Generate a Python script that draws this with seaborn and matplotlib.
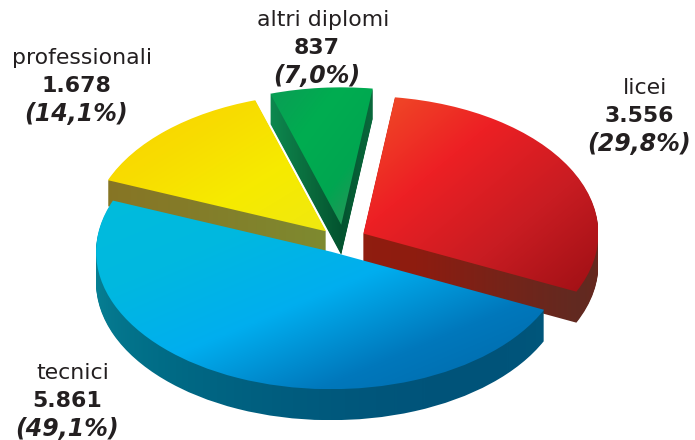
import matplotlib
matplotlib.use('Agg')
import matplotlib.pyplot as plt
import numpy as np
import seaborn as sns

# categories in pie order, counter-clockwise from the right edge of licei
categories = ['licei', 'altri diplomi', 'professionali', 'tecnici']
values = [3556, 837, 1678, 5861]
value_labels = ['3.556', '837', '1.678', '5.861']
pct_labels = ['(29,8%)', '(7,0%)', '(14,1%)', '(49,1%)']

explode = [0.128, 0.14, 0.106, 0.085]
nudge_px = [(-1, -3), (6, -1), (5, -3), (1, -4)]
depths = [31, 30, 26, 31]
draw_order = [1, 2, 0, 3]
label_pos = [(645, 88), (323, 20), (82, 58), (73, 373)]

top_colors = [['#f04e27', '#ed2024', '#c81c22', '#a01015'],
              ['#0a9d55', '#00ad50', '#00a651', '#3a8c5c'],
              ['#f9d100', '#f8dc00', '#f6eb00', '#f0e810'],
              ['#00bcdc', '#00b8e0', '#00aeef', '#0078bc', '#0068a8']]
side_colors = [['#95200f', '#8e1c10', '#5e2b22'],
               ['#0d8a50', '#0a6a3c', '#004a2a'],
               ['#8a6e20', '#857a28', '#7e8a30'],
               ['#0a8a9a', '#006a85', '#004a75']]

SQUASH = 0.585
RADIUS_PX = 235
CENTER_PX = (338, 245)
W, H = 695, 440

sns.set_theme(style='white')
fig = plt.figure(figsize=(W / 100, H / 100), dpi=100)
ax = fig.add_axes([0, 0, 1, 1])

xmax = W / RADIUS_PX
ymax = H / (RADIUS_PX * SQUASH)
cx = CENTER_PX[0] / RADIUS_PX
cy = (H - CENTER_PX[1]) / (RADIUS_PX * SQUASH)
dx = 1 / RADIUS_PX
dy = 1 / (RADIUS_PX * SQUASH)

grid = np.linspace(0, 1, 64)
ramp = np.add.outer(grid, grid) / 2


def fill_wedge(wedge, cmap, zorder):
    box = wedge.get_path().get_extents()
    im = ax.imshow(ramp, cmap=cmap, vmin=0, vmax=1, aspect='auto', zorder=zorder,
                   interpolation='bilinear',
                   extent=(box.x0, box.x1, box.y0, box.y1))
    im.set_clip_path(wedge)


top_cmaps = [sns.blend_palette(c, as_cmap=True) for c in top_colors]
side_cmaps = [sns.blend_palette(c, as_cmap=True) for c in side_colors]

for layer in range(max(depths), -1, -1):
    wedges, _ = ax.pie(values, explode=explode, startangle=-25, radius=1,
                       center=(cx, cy - layer * dy),
                       wedgeprops=dict(facecolor='none', edgecolor='none'))
    for i, wedge in enumerate(wedges):
        if layer > depths[i]:
            continue
        wx, wy = wedge.center
        wedge.set_center((wx + nudge_px[i][0] * dx, wy - nudge_px[i][1] * dy))
        z = 10 * (draw_order.index(i) + 1) + (depths[i] - layer) / 100
        fill_wedge(wedge, top_cmaps[i] if layer == 0 else side_cmaps[i], z)

ax.set_aspect('auto')
ax.set_xlim(0, xmax)
ax.set_ylim(0, ymax)
ax.axis('off')

TEXT = '#231f20'
for i, (px, py) in enumerate(label_pos):
    x = px * dx
    y0 = (H - py) * dy
    ax.text(x, y0, categories[i], ha='center', va='center', fontsize=15.8,
            color=TEXT, zorder=100)
    ax.text(x - 6 * dx, y0 - 28 * dy, value_labels[i], ha='center', va='center', fontsize=15.8,
            fontweight='bold', color=TEXT, zorder=100)
    ax.text(x - 6 * dx, y0 - 56 * dy, pct_labels[i], ha='center', va='center', fontsize=17,
            fontweight='bold', fontstyle='italic', color=TEXT, zorder=100)

fig.savefig('out.png', dpi=100)
